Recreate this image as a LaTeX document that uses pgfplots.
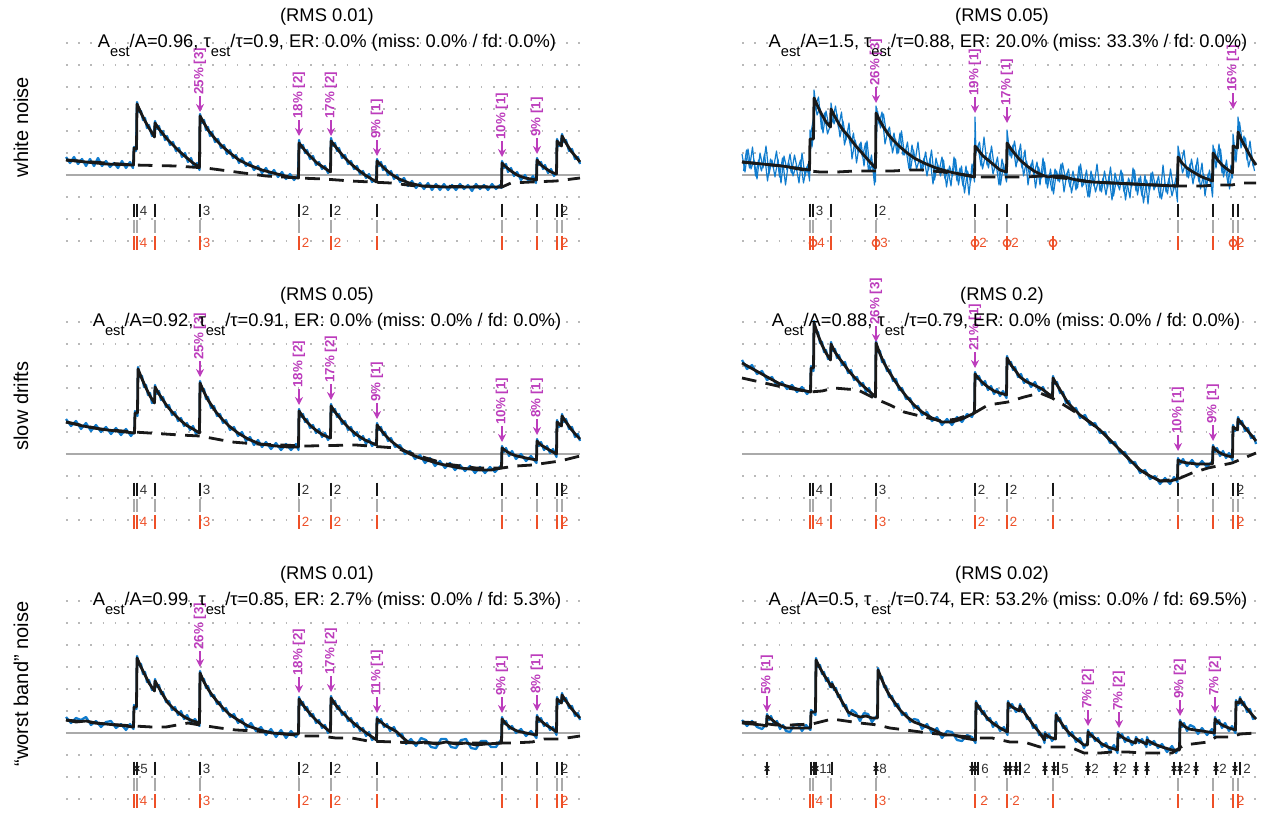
\documentclass[border=0pt]{standalone}
\usepackage{fontspec}
\setmainfont{Liberation Sans}
\usepackage{pgfplots}
\pgfplotsset{compat=1.18}
\usetikzlibrary{arrows.meta}
\frenchspacing
\definecolor{tblue}{RGB}{16,124,206}
\definecolor{tmag}{RGB}{188,60,188}
\definecolor{tred}{RGB}{238,80,40}
\definecolor{tgray}{RGB}{170,170,170}
\definecolor{tdot}{RGB}{185,185,185}
\pgfplotsset{
  panel/.style={anchor=south west, width=385.5pt, height=165pt, scale only axis,
    xmin=0, xmax=514, ymin=-80, ymax=140, clip=false,
    axis line style={draw=none}, xtick=\empty, ytick={-66,-44,...,132}, yticklabels={},
    major tick length=0pt, ymajorgrids=true,
    grid style={tdot, line width=1.2pt, dash pattern=on 1.2pt off 7.95pt}},
  bluel/.style={tblue, line width=1.7pt, line join=round, mark=none},
  fitl/.style={black!90, line width=2.1pt, line join=round, mark=none},
  basel/.style={black!90, line width=2.1pt, dash pattern=on 11pt off 7pt, mark=none},
  zerol/.style={tgray, line width=1.1pt, mark=none},
  arr/.style={tmag, line width=1.4pt, -{Stealth[length=6pt,width=6pt]}, quiver={u=0,v=-16}},
  mlab/.style={only marks, mark=none, nodes near coords={\pgfplotspointmeta}, point meta=explicit symbolic,
     every node near coord/.append style={rotate=90, anchor=west, inner sep=0pt, text=tmag, font=\bfseries\fontsize{10}{11}\selectfont}},
  tlab/.style={only marks, mark=none, nodes near coords={\pgfplotspointmeta}, point meta=explicit symbolic,
     every node near coord/.append style={anchor=west, inner sep=0.8pt, text=#1, font=\fontsize{10}{11}\selectfont}},
  tickk/.style={black!90, line width=1.5pt, only marks, mark=|, mark size=5.2pt},
  tickg/.style={tgray, line width=1.5pt, only marks, mark=|, mark size=4.9pt},
  tickr/.style={tred, line width=1.6pt, only marks, mark=|, mark size=5.2pt},
}
\newcommand\zeroline{\addplot[zerol] coordinates {(0,0)(514,0)};}
\newcommand\truthrows{%
  \addplot[tickg] coordinates {(68,-51.5)(71,-51.5)(89,-51.5)(134,-51.5)(233,-51.5)(265,-51.5)(311,-51.5)(436,-51.5)(471,-51.5)(491,-51.5)(496,-51.5)};
  \addplot[tickr] coordinates {(68,-68)(71,-68)(89,-68)(134,-68)(233,-68)(265,-68)(311,-68)(436,-68)(471,-68)(491,-68)(496,-68)};
  \addplot[tlab=tred] coordinates {(72.5,-68)[4] (135.5,-68)[3] (234.5,-68)[2] (266.5,-68)[2] (493.5,-68)[2]};
}
\newcommand\stdblack{%
  \addplot[tickk] coordinates {(68,-35.5)(71,-35.5)(89,-35.5)(134,-35.5)(233,-35.5)(265,-35.5)(311,-35.5)(436,-35.5)(471,-35.5)(491,-35.5)(496,-35.5)};
  \addplot[tlab=black!80] coordinates {(72.5,-35.5)[4] (135.5,-35.5)[3] (234.5,-35.5)[2] (266.5,-35.5)[2] (493.5,-35.5)[2]};
}
\newcommand\est{\raisebox{-7pt}{\fontsize{11}{11}\selectfont est}}
\tikzset{tt/.style={anchor=base, font=\fontsize{13.75}{16}\selectfont, inner sep=0pt},
         rl/.style={rotate=90, font=\fontsize{15}{17}\selectfont}}
\begin{document}
\begin{tikzpicture}[x=0.75pt,y=-0.75pt]
\useasboundingbox (0,0) rectangle (1264,814);

% ---------------- top left: white noise RMS 0.01
\begin{axis}[panel, at={(49.5pt,-191.25pt)}]
\zeroline
\addplot[bluel] coordinates {(0,18)(4,12)(8,18)(12,11)(16,16)(20,9)(24,16)(28,9)(32,17)(36,9)(40,14)(44,8)(48,12)(52,7)(56,14)(60,7)(64,13)(67,7)(68,28)(70,24)(71,73)(73,63)(75,64)(77,55)(79,57)(81,47)(83,50)(86,39)(88,41)(89,54)(91,46)(93,49)(95,40)(97,44)(99,35)(101,39)(104,30)(107,33)(110,24)(113,27)(116,18)(119,22)(122,13)(125,17)(128,8)(131,12)(133.5,5)(134,61)(136,52)(138,55)(140,45)(142,48)(144,39)(146,43)(149,33)(152,36)(155,27)(158,30)(161,21)(164,25)(167,17)(170,20)(173,12)(176,17)(180,9)(184,13)(188,5)(192,9)(196,2)(200,7)(204,0)(208,5)(212,-2)(216,3)(220,-4)(224,1)(228,-5)(232,0)(233,35)(235,27)(237,30)(239,22)(241,25)(244,16)(247,19)(250,10)(253,13)(256,6)(259,9)(262,2)(264.5,5)(265,37)(267,29)(269,32)(271,24)(273,27)(276,17)(279,20)(282,11)(285,14)(288,6)(291,9)(294,1)(297,4)(300,-3)(303,1)(306,-7)(310,-4)(311,16)(313,9)(315,13)(317,5)(319,9)(322,0)(325,4)(328,-4)(331,0)(334,-7)(338,-3)(342,-11)(346,-6)(350,-13)(354,-8)(358,-14)(362,-8)(366,-15)(370,-9)(374,-15)(378,-9)(382,-15)(386,-10)(390,-15)(394,-9)(398,-14)(402,-10)(406,-16)(410,-9)(414,-14)(418,-10)(422,-15)(426,-9)(430,-14)(434,-10)(435.5,-13)(436,14)(438,7)(440,11)(442,3)(445,7)(448,-1)(451,3)(455,-5)(459,0)(463,-7)(467,-1)(470,-8)(471,17)(473,10)(475,13)(477,6)(479,10)(482,2)(485,6)(488,-1)(490.5,3)(491,36)(493,29)(495,32)(496,41)(498,33)(500,35)(503,24)(506,26)(509,16)(512,18)(514,11)};
\addplot[basel] coordinates {(0,15)(40,12)(68,10)(110,9)(140,7)(170,3)(200,-1)(233,-3)(258,-4)(285,-6)(325,-8)(350,-11)(436,-12)(445,-8)(465,-7)(490,-6)(514,-3)};
\addplot[fitl] coordinates {(0,15)(20,13)(40,11)(67.5,10)(68,27)(70.5,26)(71,71)(75,62)(79,54)(83,47)(88.5,38)(89,52)(93,46)(97,41)(101,36)(107,30)(113,24)(121,17)(127,12)(133.5,8)(134,59)(138,52)(142,45)(146,40)(151,34)(157,28)(164,22)(173,15)(183,10)(196,5)(211,1)(223,-2)(232.5,-3)(233,32)(237,27)(241,22)(246,17)(251,12)(257,8)(264.5,3)(265,34)(269,29)(273,24)(278,18)(284,12)(291,6)(299,0)(310.5,-7)(311,14)(315,10)(319,6)(325,1)(333,-4)(343,-8)(356,-11)(380,-12)(410,-12)(435.5,-12)(436,12)(440,8)(445,4)(451,0)(459,-3)(470.5,-5)(471,15)(475,10)(479,7)(485,3)(490.5,1)(491,34)(495.5,29)(496,39)(500,32)(505,24)(510,18)(514,13)};
\addplot[arr] coordinates {(134,79)(233,55)(265,55)(311,35)(436,34)(471,37)};
\addplot[mlab] coordinates {(134,80)[{25\% [3]}] (233,56)[{18\% [2]}] (265,56)[{17\% [2]}] (311,36)[{9\% [1]}] (436,35)[{10\% [1]}] (471,38)[{9\% [1]}]};
\stdblack
\truthrows
\end{axis}

% ---------------- top right: white noise RMS 0.05
\begin{axis}[panel, at={(556.5pt,-191.25pt)}]
\zeroline
\addplot[tblue, line width=0.9pt, line join=round, mark=none] coordinates {(1.5,4)(4.5,25)(7.5,7)(10.5,28)(13.5,-1)(16.5,15)(19.5,4)(22.5,21)(25.5,-6)(28.5,16)(31.5,7)(34.5,24)(37.5,-2)(40.5,17)(43.5,-10)(46.5,13)(49.5,2)(52.5,20)(55.5,5)(58.5,15)(61.5,-8)(64.5,8)(67.5,-3)(69,42)(73.5,69)(76.5,78)(79.5,46)(82.5,62)(85.5,41)(88.5,50)(90.5,54)(93.5,69)(96.5,47)(99.5,63)(102.5,30)(105.5,44)(108.5,29)(111.5,42)(114.5,12)(117.5,31)(120.5,18)(123.5,32)(126.5,4)(129.5,20)(132.5,-10)(135.5,64)(138.5,47)(141.5,61)(144.5,41)(147.5,48)(150.5,22)(153.5,36)(156.5,22)(159.5,44)(162.5,20)(165.5,33)(168.5,5)(171.5,25)(174.5,6)(177.5,16)(180.5,4)(183.5,23)(186.5,5)(189.5,25)(192.5,-5)(195.5,11)(198.5,-1)(201.5,15)(204.5,-12)(207.5,9)(210.5,-1)(213.5,16)(216.5,-10)(219.5,9)(222.5,-18)(225.5,4)(228.5,-7)(231.5,11)(234.5,25)(237.5,33)(240.5,6)(243.5,20)(246.5,7)(249.5,29)(252.5,6)(255.5,18)(258.5,-10)(261.5,11)(264.5,-7)(266.5,32)(269.5,17)(272.5,34)(275.5,13)(278.5,31)(281.5,-1)(284.5,14)(287.5,0)(290.5,15)(293.5,-13)(296.5,8)(299.5,-3)(302.5,13)(305.5,-13)(308.5,6)(311.5,-19)(314.5,4)(317.5,-7)(320.5,12)(323.5,-4)(326.5,6)(329.5,-18)(332.5,-2)(335.5,-13)(338.5,11)(341.5,-10)(344.5,5)(347.5,-22)(350.5,0)(353.5,-17)(356.5,-5)(359.5,-17)(362.5,4)(365.5,-13)(368.5,8)(371.5,-21)(374.5,-4)(377.5,-15)(380.5,2)(383.5,-25)(386.5,-3)(389.5,-12)(392.5,5)(395.5,-20)(398.5,-1)(401.5,-28)(404.5,-5)(407.5,-16)(410.5,3)(413.5,-12)(416.5,-1)(419.5,-24)(422.5,-8)(425.5,-19)(428.5,6)(431.5,-15)(434.5,0)(437.5,22)(440.5,2)(443.5,11)(446.5,-3)(449.5,16)(452.5,-3)(455.5,17)(458.5,-14)(461.5,1)(464.5,-11)(467.5,5)(470.5,-22)(472.5,26)(475.5,13)(478.5,26)(481.5,-2)(484.5,15)(487.5,-14)(490.5,7)(493.5,22)(497.5,53)(500.5,31)(503.5,37)(506.5,8)(509.5,20)(512.5,4)};
\addplot[tblue, line width=0.9pt, line join=round, mark=none] coordinates {(0,21)(3,3)(6,26)(9,6)(12,15)(15,-4)(18,22)(21,7)(24,29)(27,1)(30,15)(33,-2)(36,16)(39,-8)(42,19)(45,5)(48,21)(51,-1)(54,9)(57,-8)(60,22)(63,-1)(66,11)(67.5,-6)(68,45)(70,28)(71.5,42)(72,85)(75,60)(78,67)(81,42)(84,64)(87,48)(88.5,53)(89,72)(92,51)(95,61)(98,38)(101,54)(104,35)(107,52)(110,16)(113,35)(116,23)(119,33)(122,9)(125,34)(128,5)(131,12)(133.5,-7)(134,69)(137,51)(140,63)(143,31)(146,45)(149,29)(152,42)(155,21)(158,42)(161,20)(164,26)(167,6)(170,30)(173,13)(176,33)(179,5)(182,17)(185,-1)(188,17)(191,-9)(194,17)(197,3)(200,18)(203,-4)(206,6)(209,-11)(212,18)(215,-6)(218,7)(221,-11)(224,9)(227,-20)(230,11)(232.5,-7)(233,58)(234,22)(236,29)(239,9)(242,38)(245,10)(248,22)(251,1)(254,12)(257,-10)(260,16)(263,2)(264.5,-6)(265,45)(268,19)(271,30)(274,8)(277,25)(280,7)(283,25)(286,-10)(289,11)(292,0)(295,13)(298,-10)(301,17)(304,-9)(307,0)(310,-16)(313,6)(316,-6)(319,11)(322,-17)(325,2)(328,-12)(331,4)(334,-15)(337,9)(340,-12)(343,-3)(346,-22)(349,4)(352,-11)(355,11)(358,-16)(361,-3)(364,-20)(367,-1)(370,-25)(373,2)(376,-11)(379,5)(382,-17)(385,-7)(388,-23)(391,7)(394,-16)(397,-3)(400,-21)(403,0)(406,-29)(409,2)(412,-15)(415,-6)(418,-23)(421,10)(424,-17)(427,-3)(430,-21)(433,-8)(435.5,-27)(436,29)(439,11)(442,25)(445,-2)(448,11)(451,-9)(454,10)(457,-7)(460,12)(463,-21)(466,1)(469,-10)(470.5,4)(471,30)(474,7)(477,31)(480,2)(483,10)(486,-9)(489,10)(490.5,-3)(491,41)(494,13)(495.5,31)(496,58)(499,27)(502,39)(505,15)(508,34)(511,9)(514,13)};
\addplot[basel] coordinates {(0,13)(40,9)(68,4)(78,3)(95,3)(113,4)(136,4)(150,4)(168,5)(181,5)(210,2)(238,-2)(255,-2)(271,-2)(284,-2)(300,-1)(330,-4)(350,-7)(435,-11)(445,-11)(460,-11)(475,-10)(490,-10)(500,-8)(514,-8)};
\addplot[fitl] coordinates {(0,13)(20,11)(40,9)(67.5,5)(68,36)(71.5,36)(72,77)(76,68)(80,60)(84,53)(88.5,48)(89,66)(93,58)(97,51)(101,45)(107,38)(113,30)(120,22)(127,14)(133.5,7)(134,62)(138,54)(142,47)(146,41)(151,35)(157,29)(164,23)(172,17)(182,12)(194,7)(208,3)(222,0)(232.5,-2)(233,29)(237,24)(241,19)(246,15)(252,10)(258,5)(264.5,3)(265,32)(269,26)(273,21)(278,15)(285,9)(292,4)(300,0)(306,-2)(312,-1)(320,-1)(330,-4)(340,-6)(350,-7)(370,-8)(390,-9)(410,-10)(435.5,-11)(436,18)(440,12)(445,7)(451,3)(460,-2)(470.5,-6)(471,22)(475,16)(480,10)(485,6)(490.5,2)(491,29)(495.5,27)(496,43)(500,34)(505,25)(510,16)(514,10)};
\addplot[arr] coordinates {(134,88)(233,78)(265,68)(491,82)};
\addplot[mlab] coordinates {(134,89)[{26\% [3]}] (233,79)[{19\% [1]}] (265,69)[{17\% [1]}] (491,83)[{16\% [1]}]};
\addplot[tickk] coordinates {(68,-35.5)(71,-35.5)(89,-35.5)(134,-35.5)(233,-35.5)(265,-35.5)(436,-35.5)(471,-35.5)(491,-35.5)(496,-35.5)};
\addplot[tlab=black!80] coordinates {(72.5,-35.5)[3] (135.5,-35.5)[2]};
\addplot[tickg] coordinates {(68,-51.5)(71,-51.5)(89,-51.5)(134,-51.5)(233,-51.5)(265,-51.5)(436,-51.5)(471,-51.5)(491,-51.5)(496,-51.5)};
\addplot[tickr] coordinates {(68,-68)(71,-68)(89,-68)(134,-68)(233,-68)(265,-68)(311,-68)(436,-68)(471,-68)(491,-68)(496,-68)};
\addplot[tred, line width=1pt, only marks, mark=o, mark size=2.8pt] coordinates {(71,-68)(134,-68)(233,-68)(265,-68)(311,-68)(491,-68)};
\addplot[tlab=tred] coordinates {(74,-68)[4] (137,-68)[3] (236,-68)[2] (268,-68)[2] (493.5,-68)[2]};
\end{axis}

% ---------------- middle left: slow drifts RMS 0.05
\begin{axis}[panel, at={(49.5pt,-400.5pt)}]
\zeroline
\addplot[bluel] coordinates {(0,35)(5,28)(10,33)(15,25)(20,31)(25,23)(30,29)(35,22)(40,27)(45,20)(50,26)(55,19)(60,25)(65,18)(68.5,23)(69,43)(71.5,38)(72,87)(74,77)(76,78)(78,67)(80,69)(82,59)(84,61)(86,51)(88.5,53)(89,69)(91,60)(93,63)(95,54)(97,57)(100,47)(103,49)(106,39)(109,42)(112,33)(115,36)(118,28)(121,31)(124,24)(127,28)(130,20)(133.5,24)(134,73)(136,63)(138,65)(140,55)(142,57)(145,46)(148,48)(151,38)(154,40)(157,31)(160,34)(164,24)(168,27)(172,18)(176,22)(180,13)(184,17)(188,9)(192,14)(196,7)(200,12)(205,5)(210,11)(215,4)(220,10)(225,4)(230,10)(232.5,4)(233,45)(235,37)(237,40)(239,32)(241,35)(244,26)(247,29)(250,21)(253,25)(256,17)(259,21)(262,14)(264.5,18)(265,50)(267,42)(269,45)(271,37)(273,40)(276,30)(279,33)(282,24)(285,27)(288,18)(291,22)(294,14)(297,18)(300,10)(303,15)(306,8)(310.5,12)(311,31)(313,24)(315,27)(317,19)(319,22)(322,13)(325,16)(329,7)(334,9)(339,0)(344,3)(349,-5)(354,-1)(359,-9)(364,-4)(369,-12)(374,-7)(379,-14)(384,-9)(389,-16)(394,-11)(399,-17)(404,-12)(409,-19)(414,-13)(419,-19)(424,-13)(429,-18)(435.5,-11)(436,8)(438,2)(440,6)(443,-2)(446,3)(450,-5)(455,0)(460,-7)(465,-2)(470.5,-9)(471,15)(473,8)(475,12)(478,4)(481,8)(484,1)(487,5)(490.5,-3)(491,34)(493,27)(495.5,31)(496,40)(498,32)(500,35)(503,25)(506,27)(509,17)(512,20)(514,13)};
\addplot[basel] coordinates {(0,32)(34,25)(68,22)(114,19)(134,18)(166,12)(190,10)(240,8)(290,9)(330,6)(350,-1)(380,-10)(410,-14)(436,-14)(450,-12)(466,-11)(494,-7)(514,-2)};
\addplot[fitl] coordinates {(0,32)(17,28)(34,25)(50,23)(68.5,21)(69,41)(71.5,41)(72,85)(76,75)(80,66)(84,58)(88.5,51)(89,67)(93,60)(97,54)(101,48)(107,41)(113,35)(120,29)(127,25)(133.5,21)(134,71)(138,62)(142,54)(146,48)(150,42)(156,35)(163,28)(172,21)(182,15)(194,10)(210,8)(222,7)(232.5,7)(233,43)(237,37)(241,32)(246,27)(251,23)(257,19)(264.5,16)(265,48)(269,42)(273,37)(278,31)(284,25)(291,19)(299,14)(310.5,9)(311,29)(315,24)(319,19)(325,13)(334,6)(344,0)(354,-4)(364,-7)(374,-10)(384,-12)(394,-14)(404,-15)(414,-16)(425,-16)(435.5,-14)(436,6)(440,3)(445,0)(451,-2)(460,-4)(470.5,-6)(471,13)(475,9)(480,6)(485,3)(490.5,0)(491,32)(495.5,28)(496,38)(500,32)(505,25)(510,19)(514,15)};
\addplot[arr] coordinates {(134,93)(233,65)(265,70)(311,51)(436,28)(471,35)};
\addplot[mlab] coordinates {(134,94)[{25\% [3]}] (233,66)[{18\% [2]}] (265,71)[{17\% [2]}] (311,52)[{9\% [1]}] (436,29)[{10\% [1]}] (471,36)[{8\% [1]}]};
\stdblack
\truthrows
\end{axis}

% ---------------- middle right: slow drifts RMS 0.2
\begin{axis}[panel, at={(556.5pt,-400.5pt)}]
\zeroline
\addplot[bluel] coordinates {(0,94)(5,85)(10,89)(15,80)(20,83)(25,74)(30,77)(35,68)(40,72)(45,65)(50,69)(55,62)(60,67)(65,60)(68.5,64)(69,88)(71.5,83)(72,133)(74,122)(76,122)(78,111)(80,112)(82,102)(84,104)(86,95)(88.5,96)(89,112)(91,103)(93,105)(95,96)(97,99)(100,89)(103,92)(106,81)(109,84)(112,74)(115,77)(118,68)(121,71)(124,62)(127,66)(130,57)(133.5,60)(134,113)(136,102)(138,103)(140,92)(142,94)(145,83)(148,84)(151,73)(154,75)(157,64)(160,66)(164,55)(168,56)(172,46)(176,48)(180,39)(185,42)(190,33)(195,37)(200,29)(205,35)(210,29)(215,37)(220,32)(225,40)(230,37)(232.5,44)(233,82)(235,75)(237,78)(240,69)(243,73)(246,64)(249,68)(252,60)(255,65)(258,58)(261,63)(264.5,56)(265,98)(267,90)(269,92)(271,84)(273,87)(276,77)(279,80)(282,71)(285,75)(289,67)(293,72)(297,63)(301,67)(305,58)(310.5,60)(311,78)(313,70)(315,72)(318,61)(321,62)(324,51)(327,53)(330,44)(334,46)(338,36)(343,39)(348,29)(353,31)(358,21)(363,22)(368,11)(373,12)(378,1)(383,2)(388,-9)(393,-8)(398,-19)(403,-16)(408,-25)(413,-22)(418,-30)(423,-24)(428,-30)(432,-23)(435.5,-28)(436,-4)(438,-10)(441,-5)(445,-12)(450,-6)(455,-13)(460,-7)(465,-13)(470.5,-7)(471,9)(473,2)(475,6)(478,-2)(481,3)(484,-4)(487,1)(490.5,-6)(491,29)(493,23)(495.5,27)(496,37)(498,30)(500,33)(503,23)(506,26)(509,16)(512,18)(514,10)};
\addplot[basel] coordinates {(0,76)(18,72)(40,67)(68,62)(80,63)(92,66)(116,64)(134,55)(148,49)(162,42)(186,36)(200,33)(215,35)(234,42)(246,49)(266,52)(282,57)(298,61)(310,56)(322,49)(338,39)(358,24)(378,4)(398,-16)(418,-27)(436,-25)(450,-19)(466,-14)(490,-9)(514,1)};
\addplot[fitl] coordinates {(0,91)(18,81)(38,70)(55,65)(68.5,62)(69,86)(71.5,86)(72,131)(76,119)(80,109)(84,101)(88.5,94)(89,110)(93,102)(97,96)(101,91)(106,84)(113,76)(120,69)(127,63)(133.5,57)(134,111)(138,100)(142,91)(146,84)(151,76)(157,67)(164,58)(172,49)(180,42)(190,36)(200,32)(210,32)(220,35)(232.5,41)(233,80)(237,75)(241,71)(246,67)(252,63)(258,61)(264.5,59)(265,96)(269,89)(273,84)(278,77)(285,72)(292,69)(300,65)(310.5,57)(311,76)(315,69)(320,61)(326,51)(332,45)(338,39)(348,32)(358,24)(368,14)(378,4)(388,-6)(398,-16)(408,-22)(418,-27)(428,-27)(435.5,-25)(436,-6)(440,-8)(446,-9)(455,-10)(470.5,-10)(471,7)(475,3)(480,0)(486,-2)(490.5,-3)(491,27)(495.5,24)(496,35)(500,30)(505,24)(510,18)(514,13)};
\addplot[arr] coordinates {(134,128)(233,102)(436,19)(471,29)};
\addplot[mlab] coordinates {(134,129)[{26\% [3]}] (233,103)[{21\% [1]}] (436,20)[{10\% [1]}] (471,30)[{9\% [1]}]};
\stdblack
\truthrows
\end{axis}

% ---------------- bottom left: worst band RMS 0.01
\begin{axis}[panel, at={(49.5pt,-609.75pt)}]
\zeroline
\addplot[bluel] coordinates {(0,16)(5,10)(10,15)(15,13)(20,16)(25,8)(30,12)(35,6)(40,11)(45,12)(50,5)(55,9)(60,3)(64,9)(67.5,4)(68,28)(70.5,24)(71,77)(73,68)(75,69)(77,59)(79,61)(81,51)(83,53)(86,43)(88.5,45)(89,54)(91,46)(93,48)(95,39)(97,41)(100,31)(103,32)(106,23)(109,26)(112,18)(115,22)(118,14)(121,18)(125,10)(129,14)(133.5,7)(134,62)(136,53)(138,54)(140,45)(142,47)(145,37)(148,38)(151,29)(154,31)(157,22)(160,25)(164,16)(168,19)(172,10)(176,14)(180,5)(185,10)(190,2)(195,6)(200,-2)(205,4)(210,-4)(215,3)(220,-5)(225,2)(230,-4)(232.5,1)(233,36)(235,28)(237,31)(239,23)(241,26)(244,17)(247,19)(250,10)(253,13)(256,5)(259,8)(262,0)(264.5,4)(265,37)(267,29)(269,32)(271,24)(273,27)(276,18)(279,21)(282,12)(285,15)(288,6)(291,10)(294,2)(297,5)(300,-3)(303,1)(306,-7)(310.5,-4)(311,16)(313,10)(315,14)(318,6)(321,9)(324,2)(328,6)(332,-3)(336,-1)(340,-11)(345,-6)(350,-13)(355,-5)(360,-7)(365,-14)(370,-15)(375,-6)(380,-6)(385,-14)(390,-15)(395,-7)(400,-6)(405,-15)(410,-16)(415,-8)(420,-8)(425,-14)(430,-14)(435.5,-6)(436,16)(438,9)(440,12)(443,4)(446,7)(450,0)(455,4)(460,-3)(465,2)(470.5,-5)(471,18)(473,11)(475,15)(478,7)(481,10)(484,3)(487,6)(490.5,-2)(491,36)(493,29)(495.5,33)(496,40)(498,32)(500,35)(503,25)(506,27)(509,17)(512,20)(514,13)};
\addplot[basel] coordinates {(0,13)(40,9)(68,7)(86,6)(100,6)(122,10)(134,8)(154,5)(170,3)(190,2)(238,-3)(254,-3)(270,-5)(286,-5)(302,-8)(328,-9)(350,-10)(436,-10)(446,-10)(466,-9)(478,-6)(494,-6)(514,-3)};
\addplot[fitl] coordinates {(0,13)(10,11)(20,12)(30,10)(40,9)(50,8)(60,7)(67.5,6)(68,26)(70.5,26)(71,75)(75,66)(79,58)(83,50)(88.5,42)(89,52)(93,45)(97,38)(102,30)(108,24)(114,19)(120,15)(127,12)(133.5,10)(134,60)(138,51)(142,44)(146,38)(150,33)(156,26)(163,19)(172,13)(182,7)(194,3)(206,0)(220,-1)(232.5,-1)(233,34)(237,28)(241,23)(246,17)(251,12)(257,7)(264.5,1)(265,35)(269,29)(273,24)(278,19)(284,13)(291,7)(299,1)(310.5,-7)(311,14)(315,11)(320,7)(326,4)(331,1)(336,-4)(342,-9)(350,-10)(360,-9)(370,-11)(380,-9)(390,-11)(400,-10)(410,-12)(420,-11)(435.5,-10)(436,14)(440,9)(445,5)(451,2)(460,0)(470.5,-2)(471,16)(475,12)(480,8)(485,5)(490.5,1)(491,34)(495.5,30)(496,38)(500,32)(505,25)(510,19)(514,15)};
\addplot[arr] coordinates {(134,82)(233,56)(265,57)(311,36)(436,36)(471,38)};
\addplot[mlab] coordinates {(134,83)[{26\% [3]}] (233,57)[{18\% [2]}] (265,58)[{17\% [2]}] (311,37)[{11\% [1]}] (436,37)[{9\% [1]}] (471,39)[{8\% [1]}]};
\addplot[tickk] coordinates {(67.5,-35.5)(71,-35.5)(89,-35.5)(134,-35.5)(233,-35.5)(265,-35.5)(311,-35.5)(436,-35.5)(471,-35.5)(491,-35.5)(496,-35.5)};
\addplot[black!90, line width=1pt, only marks, mark=x, mark size=2.5pt] coordinates {(71,-35.5)};
\addplot[tlab=black!80] coordinates {(73,-35.5)[5] (135.5,-35.5)[3] (234.5,-35.5)[2] (266.5,-35.5)[2] (493.5,-35.5)[2]};
\truthrows
\end{axis}

% ---------------- bottom right: worst band RMS 0.02
\begin{axis}[panel, at={(556.5pt,-609.75pt)}]
\zeroline
\addplot[bluel] coordinates {(0,13)(5,7)(10,12)(15,6)(20,4)(24.5,9)(25,19)(27,13)(29,17)(32,9)(35,12)(38,4)(41,8)(44,2)(48,1)(52,8)(56,9)(60,2)(64,8)(68.5,3)(69,23)(73.5,18)(74,75)(76,66)(78,68)(80,59)(82,61)(84,52)(86,55)(88,46)(89.5,49)(90,51)(92,43)(94,45)(96,36)(98,38)(101,27)(104,28)(107,17)(110,23)(114,20)(118,12)(122,20)(126,19)(130,11)(135.5,18)(136,65)(138,55)(140,56)(142,46)(144,47)(147,36)(150,37)(153,27)(156,29)(160,18)(164,20)(168,11)(172,14)(176,13)(180,4)(185,9)(190,0)(195,5)(200,-5)(205,2)(210,1)(215,-7)(220,-8)(225,-2)(230,-4)(233.5,-10)(234,32)(236,24)(238,27)(240,19)(242,22)(245,13)(248,15)(251,6)(254,11)(258,2)(262,6)(265.5,-2)(266,32)(268,25)(270,29)(274,21)(277.5,25)(278,29)(280,21)(282,24)(285,14)(288,15)(291,5)(294,8)(297,-2)(300,-1)(302.5,-10)(303,1)(305,-5)(307,-1)(310,-8)(313.5,-3)(314,20)(316,12)(318,15)(321,5)(324,7)(327,-3)(330,1)(334,-9)(338,-5)(342,-15)(345.5,-9)(346,3)(348,-4)(350,0)(353,-8)(356,-5)(360,-14)(364,-10)(368,-18)(372,-12)(375.5,-20)(376,1)(378,-5)(380,-1)(383,-9)(386,-4)(390,-12)(393.5,-7)(394,-4)(397,-10)(400,-6)(404.5,-14)(405,-4)(408,-12)(412,-8)(416,-15)(420,-11)(425,-19)(430,-13)(434,-20)(437.5,-14)(438,13)(440,6)(442,10)(445,2)(448,8)(452,6)(456,-1)(460,5)(465,-2)(470,4)(472.5,-3)(473,16)(475,9)(477,13)(480,5)(483,10)(487,2)(490,7)(493.5,0)(494,33)(496,28)(497.5,32)(498,36)(500,28)(502,31)(505,21)(508,24)(511,14)(514,16)};
\addplot[basel] coordinates {(0,11)(18,10)(34,8)(48,8)(70,9)(90,14)(104,12)(118,10)(136,8)(148,5)(164,3)(186,0)(238,-5)(250,-5)(268,-9)(282,-9)(298,-14)(328,-14)(342,-20)(358,-20)(370,-19)(386,-19)(400,-20)(430,-20)(442,-12)(466,-9)(474,-4)(490,-4)(498,-1)(514,0)};
\addplot[fitl] coordinates {(0,10)(10,9)(20,8)(24.5,7)(25,17)(29,14)(34,10)(39,7)(44,5)(55,5)(68.5,5)(69,21)(73.5,21)(74,73)(78,65)(82,58)(86,52)(89.5,46)(90,49)(94,42)(98,35)(102,28)(106,21)(112,18)(118,16)(124,17)(130,15)(135.5,15)(136,63)(140,53)(144,44)(148,37)(153,30)(158,23)(165,16)(172,11)(180,8)(190,4)(202,-2)(212,-2)(222,-5)(233.5,-7)(234,30)(238,24)(242,19)(247,13)(252,9)(258,5)(265.5,1)(266,30)(270,26)(274,24)(277.5,22)(278,27)(282,21)(287,14)(292,7)(297,1)(302.5,-7)(303,-1)(307,-4)(313.5,-6)(314,18)(318,12)(322,6)(327,0)(333,-5)(342,-12)(345.5,-12)(346,1)(350,-3)(355,-7)(360,-11)(366,-14)(375.5,-17)(376,-1)(380,-4)(385,-7)(393.5,-10)(394,-6)(400,-9)(404.5,-11)(405,-7)(412,-11)(420,-14)(430,-17)(437.5,-17)(438,11)(442,7)(447,4)(453,3)(460,2)(472.5,0)(473,14)(477,10)(482,7)(487,5)(493.5,3)(494,31)(497.5,30)(498,34)(502,28)(507,22)(512,16)(514,14)};
\addplot[arr] coordinates {(25,37)(346,23)(377,21)(438,33)(473,36)};
\addplot[mlab] coordinates {(25,38)[{5\% [1]}] (346,24)[{7\% [2]}] (377,22)[{7\% [2]}] (438,34)[{9\% [2]}] (473,37)[{7\% [2]}]};
\addplot[tickk] coordinates {(25,-35.5)(69,-35.5)(72,-35.5)(74,-35.5)(90,-35.5)(134,-35.5)(230,-35.5)(233,-35.5)(236,-35.5)(264,-35.5)(268,-35.5)(274,-35.5)(278,-35.5)(303,-35.5)(312,-35.5)(316,-35.5)(346,-35.5)(374,-35.5)(394,-35.5)(405,-35.5)(432,-35.5)(438,-35.5)(454,-35.5)(474,-35.5)(493,-35.5)(498,-35.5)};
\addplot[black!90, line width=1pt, only marks, mark=x, mark size=2.5pt] coordinates {(25,-35.5)(72,-35.5)(74,-35.5)(134,-35.5)(230,-35.5)(233,-35.5)(264,-35.5)(268,-35.5)(274,-35.5)(303,-35.5)(312,-35.5)(346,-35.5)(374,-35.5)(394,-35.5)(405,-35.5)(432,-35.5)(438,-35.5)(454,-35.5)(474,-35.5)(493,-35.5)};
\addplot[tlab=black!80] coordinates {(76,-35.5)[11] (136,-35.5)[8] (238,-35.5)[6] (280,-35.5)[2] (318,-35.5)[5] (348,-35.5)[2] (376,-35.5)[2] (440,-35.5)[2] (476,-35.5)[2] (500,-35.5)[2]};
\addplot[tickg] coordinates {(68,-51.5)(71,-51.5)(89,-51.5)(134,-51.5)(233,-51.5)(265,-51.5)(311,-51.5)(436,-51.5)(471,-51.5)(491,-51.5)(496,-51.5)};
\addplot[tickr] coordinates {(68,-68)(71,-68)(89,-68)(134,-68)(233,-68)(265,-68)(311,-68)(436,-68)(471,-68)(491,-68)(496,-68)};
\addplot[tlab=tred] coordinates {(72.5,-68)[4] (135.5,-68)[3] (237,-68)[2] (269,-68)[2] (493.5,-68)[2]};
\end{axis}

% ---------------- titles
\node[tt] at (327,21) {(RMS 0.01)};
\node[tt] at (327,47) {A\est/A=0.96, τ\est/τ=0.9, ER: 0.0\% (miss: 0.0\% / fd: 0.0\%)};
\node[tt] at (1002,21) {(RMS 0.05)};
\node[tt] at (1008,47) {A\est/A=1.5, τ\est/τ=0.88, ER: 20.0\% (miss: 33.3\% / fd: 0.0\%)};
\node[tt] at (327,300) {(RMS 0.05)};
\node[tt] at (327,326) {A\est/A=0.92, τ\est/τ=0.91, ER: 0.0\% (miss: 0.0\% / fd: 0.0\%)};
\node[tt] at (1002,300) {(RMS 0.2)};
\node[tt] at (1006,326) {A\est/A=0.88, τ\est/τ=0.79, ER: 0.0\% (miss: 0.0\% / fd: 0.0\%)};
\node[tt] at (327,579) {(RMS 0.01)};
\node[tt] at (327,605) {A\est/A=0.99, τ\est/τ=0.85, ER: 2.7\% (miss: 0.0\% / fd: 5.3\%)};
\node[tt] at (1002,579) {(RMS 0.02)};
\node[tt] at (1008,605) {A\est/A=0.5, τ\est/τ=0.74, ER: 53.2\% (miss: 0.0\% / fd: 69.5\%)};
% ---------------- row labels
\node[rl] at (21,127) {white noise};
\node[rl] at (21,406) {slow drifts};
\node[rl] at (21,684) {“worst band” noise};
\end{tikzpicture}
\end{document}
